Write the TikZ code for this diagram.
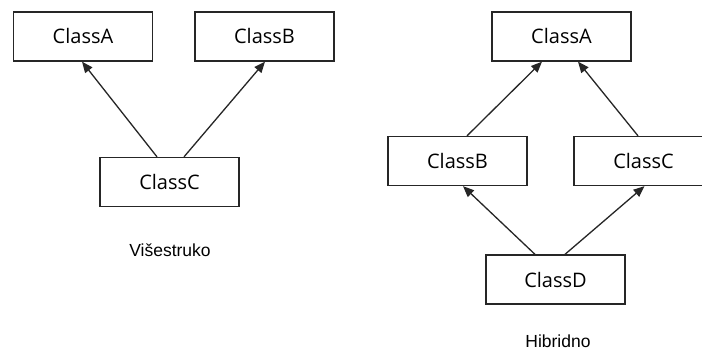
\documentclass[tikz,border=0pt]{standalone}
\usepackage{fontspec}
\setmainfont{Open Sans}
\newfontfamily\labelfont{Liberation Sans}
\usetikzlibrary{arrows.meta}
\begin{document}
\begin{tikzpicture}[x=1pt,y=-1pt,
  classbox/.style={draw=black!85,line width=1.3pt,rectangle,minimum width=139pt,minimum height=49pt,
    inner sep=0pt,font=\fontsize{20}{24}\selectfont},
  inherit/.style={draw=black!85,line width=1.3pt,-{Triangle[length=11pt,width=9pt]}},
  caption/.style={font=\labelfont\fontsize{17.5}{21}\selectfont,inner sep=1pt}]
\useasboundingbox (0,0) rectangle (702,350);
\fill[white] (0,0) rectangle (702,350);

% multiple inheritance
\node[classbox] (la) at (83,36.5) {ClassA};
\node[classbox] (lb) at (264.5,36.5) {ClassB};
\node[classbox] (lc) at (169.5,182) {ClassC};
\draw[inherit] ([xshift=-12.5pt]lc.north) -- ([xshift=-1pt]la.south);
\draw[inherit] ([xshift=14.5pt]lc.north) -- ([xshift=0.5pt]lb.south);
\node[caption] (lcap) at (170,250) {Višestruko};

% hybrid inheritance
\node[classbox] (ra) at (561.5,36.5) {ClassA};
\node[classbox] (rb) at (457.5,161) {ClassB};
\node[classbox] (rc) at (643.5,161) {ClassC};
\node[classbox] (rd) at (555.5,279.5) {ClassD};
\draw[inherit] ([xshift=9.5pt]rb.north) -- ([xshift=-19.5pt]ra.south);
\draw[inherit] ([xshift=-5.5pt]rc.north) -- ([xshift=16.5pt]ra.south);
\draw[inherit] ([xshift=-20.5pt]rd.north) -- ([xshift=5.5pt]rb.south);
\draw[inherit] ([xshift=9.5pt]rd.north) -- ([xshift=1pt]rc.south);
\node[caption] (rcap) at (558,341) {Hibridno};
\end{tikzpicture}
\end{document}
